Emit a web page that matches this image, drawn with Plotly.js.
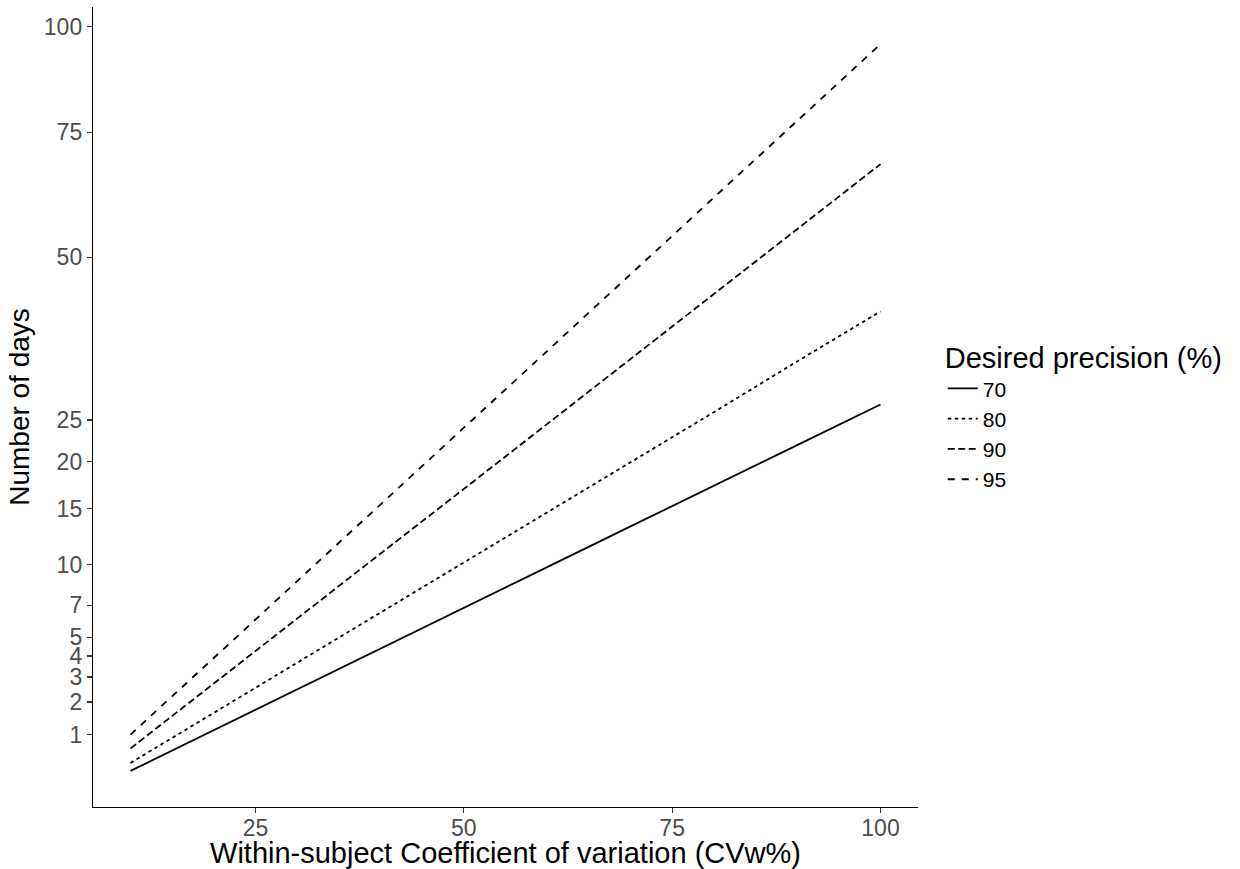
<!DOCTYPE html>
<html>
<head>
<meta charset="utf-8">
<script src="https://cdn.plot.ly/plotly-3.0.1.min.js"></script>
<style>html,body{margin:0;padding:0;background:#fff;}#chart{width:1240px;height:869px;}</style>
</head>
<body>
<div id="chart"></div>
<script>
// Within-subject CV (%)
var cv = [10, 20, 30, 40, 50, 60, 70, 80, 90, 100];
// Number of days for each desired precision
var days70 = [0.29, 1.12, 2.48, 4.38, 6.82, 9.79, 13.3, 17.3, 21.9, 27.0];
var days80 = [0.41, 1.63, 3.66, 6.51, 10.2, 14.6, 19.9, 26.0, 33.0, 40.7];
var days90 = [0.68, 2.73, 6.13, 10.9, 17.0, 24.5, 33.4, 43.6, 55.1, 68.1];
var days95 = [1.0, 3.90, 8.71, 15.4, 24.0, 34.6, 47.0, 61.3, 77.5, 95.6];
var seriesNames = ['70', '80', '90', '95'];
var yTickVals = [1, 2, 3, 4, 5, 7, 10, 15, 20, 25, 50, 75, 100];
var xTickVals = [25, 50, 75, 100];

var font = 'Liberation Sans, Arial, sans-serif';
var sq = function (a) { return a.map(function (v) { return Math.sqrt(v); }); };
var dashes = ['solid', '3.5px,3.5px', '7px,3.5px', '7px,7px'];
var all = [days70, days80, days90, days95];

var traces = all.map(function (d, i) {
  return {
    x: cv, y: sq(d), type: 'scatter', mode: 'lines', name: seriesNames[i],
    line: {color: '#000000', width: 1.8, dash: dashes[i]},
    customdata: d, hovertemplate: '%{customdata}<extra></extra>'
  };
});

var layout = {
  width: 1240, height: 869,
  margin: {l: 93, r: 322, t: 7, b: 62},
  paper_bgcolor: '#ffffff', plot_bgcolor: '#ffffff',
  font: {family: font, color: '#000000'},
  showlegend: true,
  legend: {
    x: 1.03, xanchor: 'left', y: 0.49, yanchor: 'middle',
    title: {text: 'Desired precision (%)', font: {size: 29, color: '#000000'}},
    font: {size: 21, color: '#000000'},
    tracegroupgap: 0, itemwidth: 30, bgcolor: 'rgba(0,0,0,0)',
    borderwidth: 0
  },
  xaxis: {
    range: [5.5, 104.5], tickmode: 'array', tickvals: xTickVals,
    ticktext: xTickVals.map(String),
    showgrid: false, zeroline: false, showline: true, linecolor: '#000000', linewidth: 1.2,
    ticks: 'outside', ticklen: 5, tickcolor: '#333333', tickwidth: 1.1,
    ticklabelstandoff: -5,
    tickfont: {size: 23, color: '#4D4D4D'},
    title: {text: 'Within-subject Coefficient of variation (CVw%)', font: {size: 29, color: '#000000'}, standoff: 0}
  },
  yaxis: {
    range: [0.08, 10.25], tickmode: 'array', tickvals: sq(yTickVals),
    ticktext: yTickVals.map(String),
    showgrid: false, zeroline: false, showline: true, linecolor: '#000000', linewidth: 1.2,
    ticks: 'outside', ticklen: 5, tickcolor: '#333333', tickwidth: 1.1,
    tickfont: {size: 23, color: '#4D4D4D'},
    title: {text: 'Number of days', font: {size: 28, color: '#000000'}, standoff: 6}
  }
};

Plotly.newPlot('chart', traces, layout, {displayModeBar: false, staticPlot: true});
</script>
</body>
</html>
